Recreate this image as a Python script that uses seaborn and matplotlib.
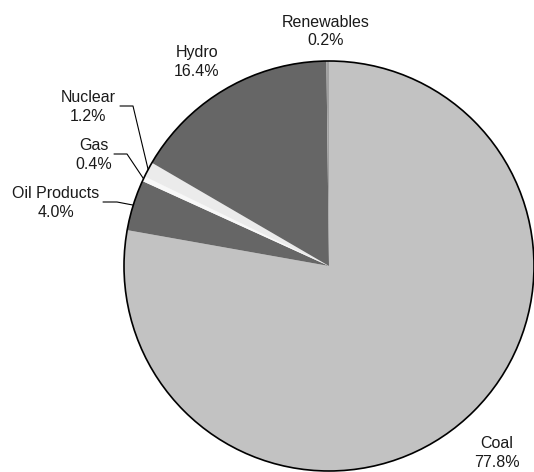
import numpy as np
import seaborn as sns
from matplotlib import pyplot as plt
from matplotlib.patches import Circle

# data
sources = ["Coal", "Oil Products", "Gas", "Nuclear", "Hydro", "Renewables"]
shares = [77.8, 4.0, 0.4, 1.2, 16.4, 0.2]
colors = ["#C2C2C2", "#666666", "#F8F8F8", "#EBEBEB", "#666666", "#A0A0A0"]

W, H = 534, 472

# label layout in image pixels (x centre, y centre), leader line (start x, elbow x) or None
label_pos = {
    "Coal": (497, 453, None),
    "Oil Products": (56, 203, (103, 117)),
    "Gas": (94, 155, (114, 127)),
    "Nuclear": (88, 107, (120, 133)),
    "Hydro": (197, 62, None),
    "Renewables": (326, 31.5, None),
}

sns.set_style("white")
plt.rcParams["font.family"] = ["Liberation Sans", "DejaVu Sans"]

fig = plt.figure(figsize=(W / 100, H / 100), dpi=100)
ax = fig.add_axes([0, 0, 1, 1])

cx, cy, r = 329, H - 266, 205
wedges, _ = ax.pie(
    shares,
    colors=colors,
    startangle=90,
    counterclock=False,
    center=(cx, cy),
    radius=r,
    wedgeprops=dict(linewidth=0),
    frame=True,
)
ax.set_xlim(0, W)
ax.set_ylim(0, H)
ax.set_aspect("equal")
ax.axis("off")
ax.add_patch(Circle((cx, cy), r, fill=False, edgecolor="black", linewidth=1.2, zorder=3))

for name, share, w in zip(sources, shares, wedges):
    x, y, leader = label_pos[name]
    ax.text(x, H - y, f"{name}\n{share:.1f}%", ha="center", va="center",
            fontsize=11.5, linespacing=1.3, color="#1a1a1a")
    if leader is not None:
        # leader goes to the middle of the wedge on the rim
        mid = np.deg2rad((w.theta1 + w.theta2) / 2)
        ex, ey = cx + r * np.cos(mid), cy + r * np.sin(mid)
        x0, x1 = leader
        ax.plot([x0, x1, ex], [H - y + 1, H - y + 1, ey], color="black", linewidth=0.8, zorder=4)

fig.savefig("out.png", dpi=100)
plt.close()
